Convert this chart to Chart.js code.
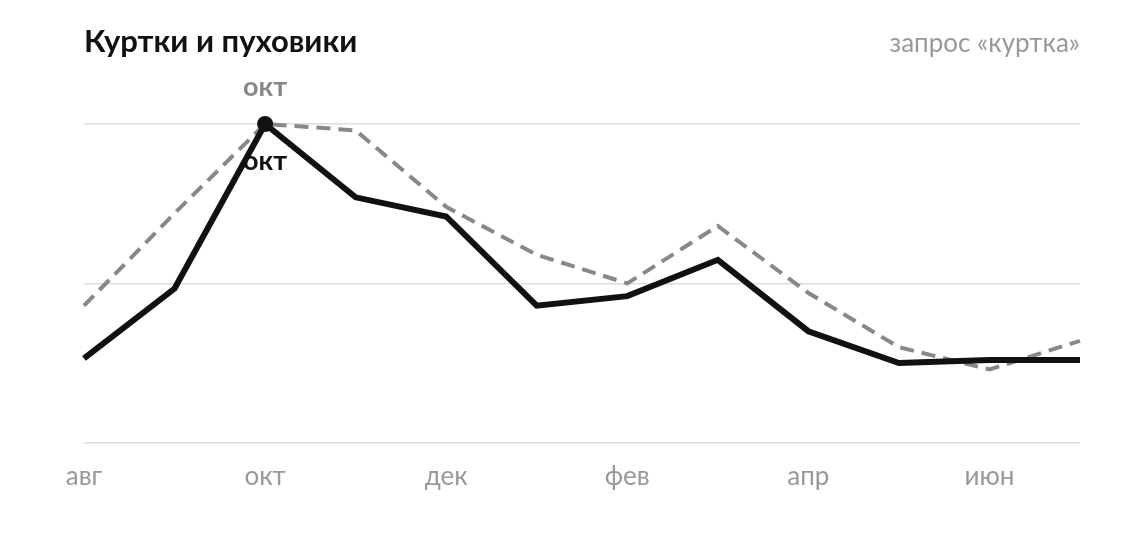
<!DOCTYPE html>
<html><head><meta charset="utf-8">
<script src="https://cdn.jsdelivr.net/npm/chart.js@4"></script>
<style>
html,body{margin:0;padding:0;background:#fff;font-family:Lato,sans-serif;}
#wrap{position:relative;width:1123px;height:544px;}
#title{position:absolute;left:84px;top:21px;font-size:31px;font-weight:bold;color:#111;}
#sub{position:absolute;right:43px;top:26px;font-size:26px;color:#999;}
canvas{position:absolute;left:0;top:0;}
</style></head><body>
<div id="wrap">
<canvas id="c" width="1123" height="544"></canvas>
<div id="title">Куртки и пуховики</div>
<div id="sub">запрос «куртка»</div>
</div>
<script>
const months = ['авг','сен','окт','ноя','дек','янв','фев','мар','апр','май','июн','июл'];
const jackets = [26.5,48.4,100,77,71,43,46,57.4,35,25,26,26];
const query = [43,72,100,98,74,59,50,68,47,30,23,32];
const peakIndex = 2;

const annot = {
  id:'annot',
  afterDatasetsDraw(chart){
    const ctx = chart.ctx;
    const p = chart.getDatasetMeta(0).data[peakIndex];
    const q = chart.getDatasetMeta(1).data[peakIndex];
    ctx.save();
    ctx.textAlign='center';
    ctx.font='bold 27px Lato';
    ctx.fillStyle='#888';
    ctx.textBaseline='middle';
    ctx.fillText(months[peakIndex], q.x, q.y-37);
    ctx.fillStyle='#111';
    ctx.fillText(months[peakIndex], p.x, p.y+37);
    ctx.beginPath();ctx.arc(p.x,p.y,8,0,Math.PI*2);ctx.fill();
    ctx.restore();
  }
};

new Chart(document.getElementById('c'),{
  type:'line',
  data:{labels:months,datasets:[
    {data:jackets,borderColor:'#111',borderWidth:6,pointRadius:0,tension:0,clip:false,order:0},
    {data:query,borderColor:'#888',borderWidth:4,borderDash:[14,8],pointRadius:0,tension:0,clip:false,order:1}
  ]},
  options:{
    responsive:false,animation:false,
    layout:{padding:{left:84,right:43,top:124,bottom:34}},
    plugins:{legend:{display:false},tooltip:{enabled:false}},
    scales:{
      x:{offset:false,grid:{display:false,drawTicks:false},border:{display:false},
        ticks:{autoSkip:false,maxRotation:0,padding:18,color:'#999',font:{family:'Lato',size:26},
          callback:(v,i)=> i%2===0?months[i]:''}},
      y:{min:0,max:100,ticks:{display:false,stepSize:50},border:{display:false},
        grid:{color:'#ddd',lineWidth:1.5,drawTicks:false}}
    }
  },
  plugins:[annot]
});
</script>
</body></html>
